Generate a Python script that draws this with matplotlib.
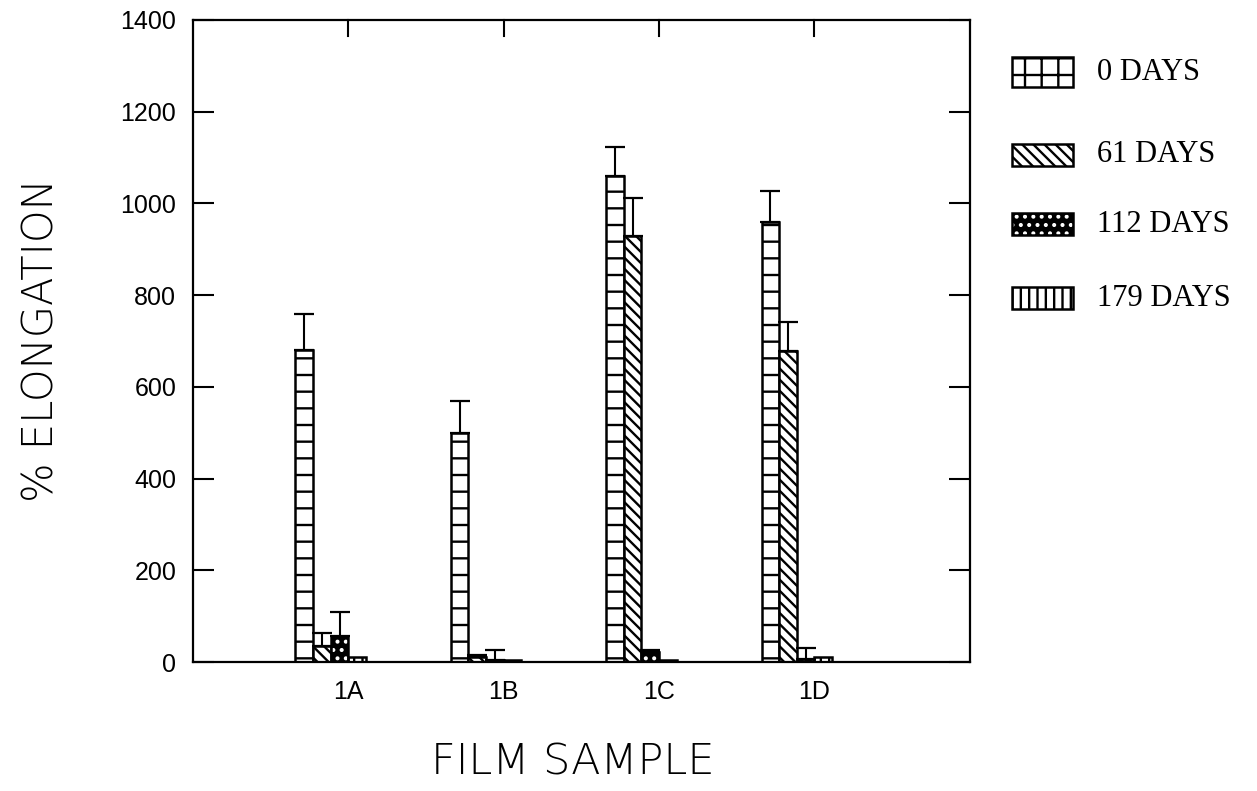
import matplotlib
matplotlib.use("Agg")
import matplotlib.pyplot as plt
from matplotlib.patches import Rectangle
import numpy as np

samples = ["1A", "1B", "1C", "1D"]
series = ["0 DAYS", "61 DAYS", "112 DAYS", "179 DAYS"]
days0 = [680, 500, 1060, 960]
days0_err = [78, 68, 62, 67]
days61 = [35, 12, 928, 678]
days61_err = [28, 4, 84, 64]
days112 = [57, 5, 22, 6]
days112_err = [53, 21, 4, 24]
days179 = [10, 5, 5, 10]
days179_err = [0, 0, 0, 0]
yticks = [0, 200, 400, 600, 800, 1000, 1200, 1400]

plt.rcParams['hatch.linewidth'] = 1.7
fig = plt.figure(figsize=(12.57, 7.91), dpi=100)
ax = fig.add_axes([0.1535, 0.163, 0.618, 0.812])

x = np.arange(1, len(samples) + 1)
w = 0.113
offsets = [-0.34, -0.227, -0.113, 0.0]
vals = [days0, days61, days112, days179]
errs = [days0_err, days61_err, days112_err, days179_err]
bar_hatches = ['-', '\\\\\\', '..', '||']
leg_hatches = ['+', '\\\\\\', '..', '||']

for i in range(4):
    xs = x + offsets[i] + w / 2
    if i == 2:
        ax.bar(xs, vals[i], w, color='black', edgecolor='white', hatch=bar_hatches[i], linewidth=0, zorder=2)
        ax.bar(xs, vals[i], w, fill=False, edgecolor='black', linewidth=1.8, zorder=3)
    else:
        ax.bar(xs, vals[i], w, color='white', edgecolor='black', hatch=bar_hatches[i], linewidth=1.8, zorder=2)
    e = np.array(errs[i])
    m = e > 0
    ax.errorbar(xs[m], np.array(vals[i])[m], yerr=[np.zeros(m.sum()), e[m]], fmt='none',
                ecolor='black', elinewidth=1.5, capsize=7, capthick=1.6, zorder=4)

ax.set_xlim(0, 5)
ax.set_ylim(0, 1400)
ax.set_yticks(yticks)
ax.set_yticklabels([str(v) for v in yticks], fontsize=18, family='Liberation Sans')
ax.set_xticks(x)
ax.set_xticklabels(samples, fontsize=18, family='Liberation Sans')
ax.tick_params(axis='y', direction='in', length=15, width=1.5, right=True, pad=12)
ax.tick_params(axis='x', direction='in', length=0, top=False, pad=13)
for xi in x:
    ax.plot([xi, xi], [1400, 1400 - 35], color='black', lw=1.5, clip_on=False, zorder=5)
for s in ax.spines.values():
    s.set_linewidth(1.6)

W, H = 1257, 791
fig.text(41 / W, 1 - 340 / H, '% ELONGATION', fontsize=30, family='DejaVu Sans',
         fontweight='light', rotation=90, ha='center', va='center')
fig.text(573 / W, 1 - 762 / H, 'FILM SAMPLE', fontsize=31, family='DejaVu Sans',
         fontweight='light', ha='center', va='center')

# legend drawn manually in figure pixels
rows = [(72, 30), (155, 22), (224, 22), (298, 22)]
for i, (yc, h) in enumerate(rows):
    x0, bw = 1012, 61
    y0 = H - yc - h / 2
    if i == 2:
        fig.add_artist(Rectangle((x0 / W, y0 / H), bw / W, h / H, transform=fig.transFigure,
                                 facecolor='black', edgecolor='white', hatch=leg_hatches[i], linewidth=0))
        fig.add_artist(Rectangle((x0 / W, y0 / H), bw / W, h / H, transform=fig.transFigure,
                                 fill=False, edgecolor='black', linewidth=1.8))
    else:
        fig.add_artist(Rectangle((x0 / W, y0 / H), bw / W, h / H, transform=fig.transFigure,
                                 facecolor='white', edgecolor='black', hatch=leg_hatches[i], linewidth=1.8))
    fig.text(1097 / W, (H - yc) / H, series[i], fontsize=22, family='Liberation Serif',
             va='center', ha='left')

fig.savefig('out.png', dpi=100)
